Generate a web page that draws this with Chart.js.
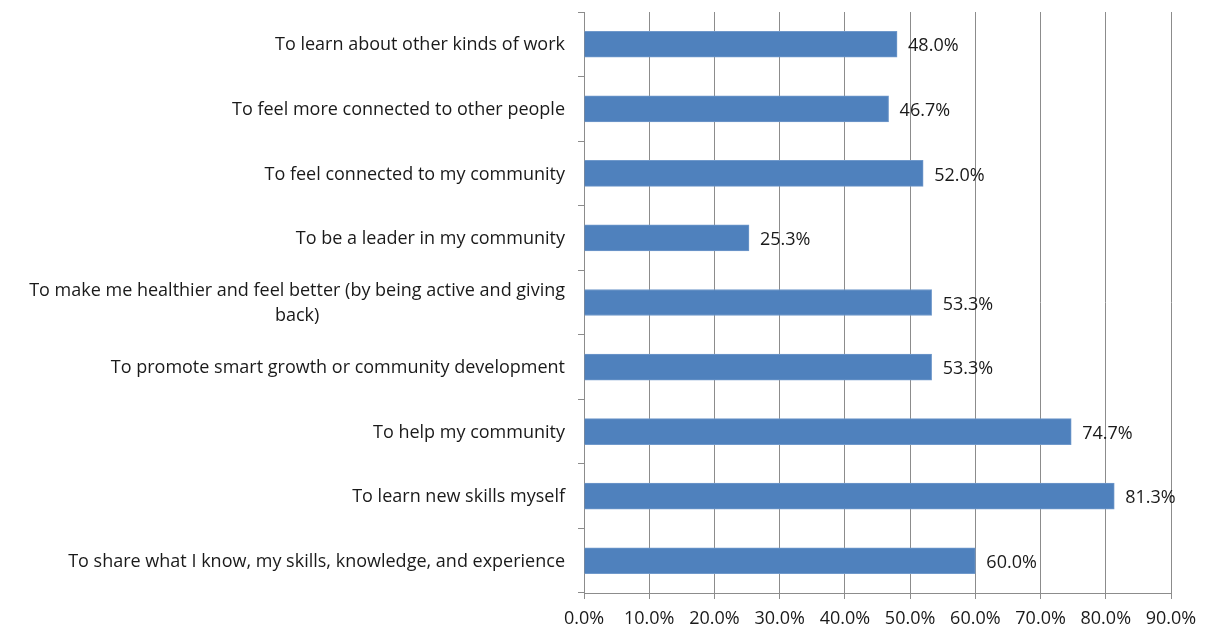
<!DOCTYPE html>
<html>
<head>
<meta charset="utf-8">
<script src="https://cdn.jsdelivr.net/npm/chart.js@4/dist/chart.umd.min.js"></script>
<style>
  html, body { margin: 0; padding: 0; background: #fff; }
  #wrap { width: 1208px; height: 633px; }
</style>
</head>
<body>
<div id="wrap"><canvas id="grafico"></canvas></div>
<script>
const razones = [
  "To learn about other kinds of work",
  "To feel more connected to other people",
  "To feel connected to my community",
  "To be a leader in my community",
  ["To make me healthier and feel better (by being active and giving", "back)"],
  "To promote smart growth or community development",
  "To help my community",
  "To learn new skills myself",
  "To share what I know, my skills, knowledge, and experience"
];
const porcentajes = [48.0, 46.7, 52.0, 25.3, 53.3, 53.3, 74.7, 81.3, 60.0];
const ticksX = [0, 10, 20, 30, 40, 50, 60, 70, 80, 90];

const fuente = '"Open Sans", sans-serif';
const colorTexto = '#1a1a1a';
const colorRejilla = '#8c8c8c';

// etiquetas del eje Y: bloque alineado a la derecha, lineas centradas dentro del bloque
const etiquetasY = {
  id: 'etiquetasY',
  afterDraw(chart) {
    const ctx = chart.ctx;
    const y = chart.scales.y;
    ctx.save();
    ctx.font = '18px ' + fuente;
    ctx.fillStyle = colorTexto;
    ctx.textBaseline = 'middle';
    ctx.textAlign = 'center';
    const derecha = y.right - 19;
    razones.forEach((r, i) => {
      const lineas = Array.isArray(r) ? r : [r];
      const ancho = Math.max(...lineas.map(l => ctx.measureText(l).width));
      const cx = derecha - ancho / 2;
      const cy = y.getPixelForTick(i) + 1;
      const alto = 25;
      lineas.forEach((l, j) => {
        ctx.fillText(l, cx, cy + (j - (lineas.length - 1) / 2) * alto);
      });
    });
    ctx.restore();
  }
};

// valores al final de cada barra
const valores = {
  id: 'valores',
  afterDatasetsDraw(chart) {
    const ctx = chart.ctx;
    const meta = chart.getDatasetMeta(0);
    ctx.save();
    ctx.font = '18px ' + fuente;
    ctx.fillStyle = colorTexto;
    ctx.textBaseline = 'middle';
    ctx.textAlign = 'left';
    meta.data.forEach((bar, i) => {
      ctx.fillText(porcentajes[i].toFixed(1) + '%', bar.x + 11, bar.y + 2);
    });
    ctx.restore();
  }
};

new Chart(document.getElementById('grafico'), {
  type: 'bar',
  data: {
    labels: razones,
    datasets: [{
      data: porcentajes,
      backgroundColor: '#4f81bd',
      borderColor: '#7099cb',
      borderWidth: 1,
      barThickness: 26
    }]
  },
  options: {
    indexAxis: 'y',
    responsive: true,
    maintainAspectRatio: false,
    animation: false,
    layout: { padding: { top: 12, right: 37, left: 0, bottom: 0 } },
    plugins: {
      legend: { display: false },
      tooltip: { enabled: false }
    },
    scales: {
      x: {
        min: 0,
        max: 90,
        afterBuildTicks(scale) {
          scale.ticks = ticksX.map(v => ({ value: v }));
        },
        afterFit(scale) { scale.height = 40; },
        ticks: {
          callback: v => v.toFixed(1) + '%',
          font: { family: fuente, size: 18 },
          color: colorTexto,
          padding: 9,
          maxRotation: 0
        },
        grid: { color: colorRejilla, tickLength: 6, lineWidth: 1 },
        border: { color: colorRejilla }
      },
      y: {
        afterFit(scale) { scale.width = 584; },
        ticks: { display: false },
        grid: {
          offset: true,
          drawOnChartArea: false,
          drawTicks: true,
          tickLength: 6,
          color: colorRejilla
        },
        border: { color: colorRejilla }
      }
    }
  },
  plugins: [etiquetasY, valores]
});
</script>
</body>
</html>
